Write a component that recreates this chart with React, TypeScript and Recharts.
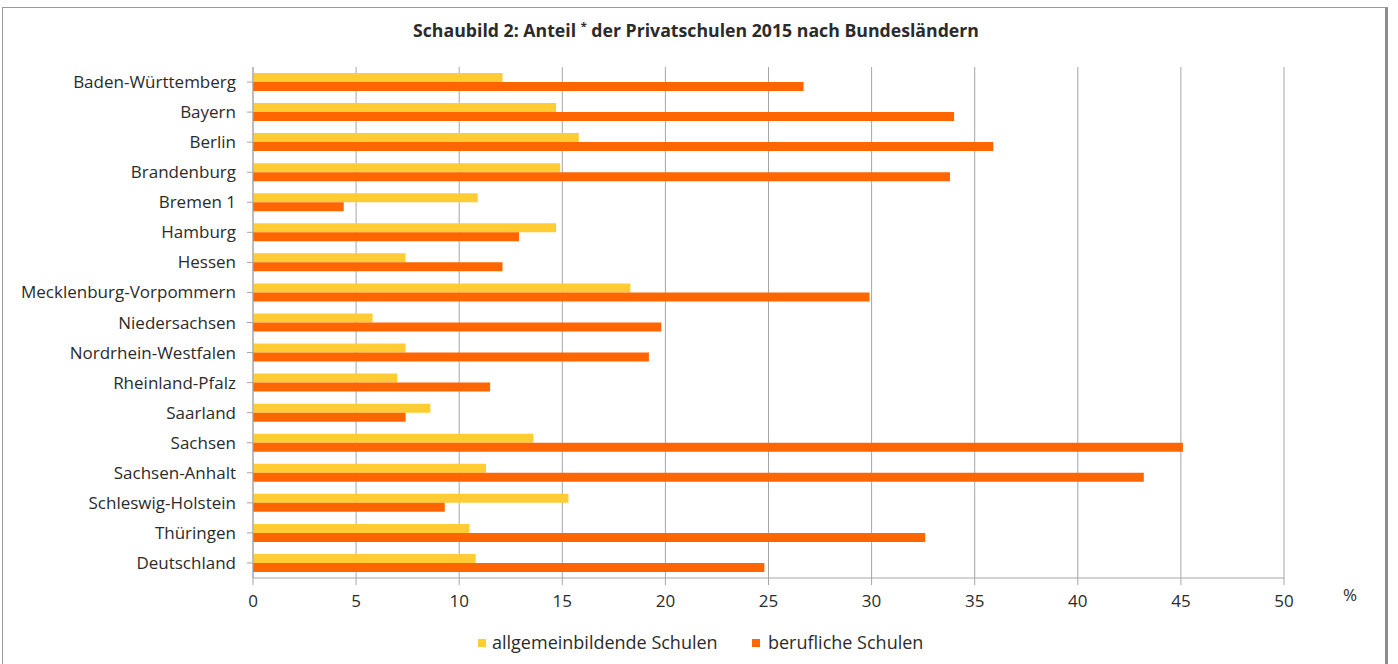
import React from 'react';
import { BarChart, Bar, XAxis, YAxis, CartesianGrid } from 'recharts';

const categories = [
  'Baden-Württemberg', 'Bayern', 'Berlin', 'Brandenburg', 'Bremen 1', 'Hamburg', 'Hessen',
  'Mecklenburg-Vorpommern', 'Niedersachsen', 'Nordrhein-Westfalen', 'Rheinland-Pfalz',
  'Saarland', 'Sachsen', 'Sachsen-Anhalt', 'Schleswig-Holstein', 'Thüringen', 'Deutschland',
];
const allgemeinbildende = [12.1, 14.7, 15.8, 14.9, 10.9, 14.7, 7.4, 18.3, 5.8, 7.4, 7.0, 8.6, 13.6, 11.3, 15.3, 10.5, 10.8];
const berufliche = [26.7, 34.0, 35.9, 33.8, 4.4, 12.9, 12.1, 29.9, 19.8, 19.2, 11.5, 7.4, 45.1, 43.2, 9.3, 32.6, 24.8];
const xTicks = [0, 5, 10, 15, 20, 25, 30, 35, 40, 45, 50];
const seriesNames = ['allgemeinbildende Schulen', 'berufliche Schulen'];
const seriesColors = ['#FFCC33', '#FF6600'];

const data = categories.map((c, i) => ({ name: c, a: allgemeinbildende[i], b: berufliche[i] }));

const FONT = '"Open Sans", "DejaVu Sans", sans-serif';
const TEXT = '#2b2b2b';
const GRID = '#a6a6a6';

export default function App() {
  return (
    <div style={{ position: 'absolute', left: 0, top: 0, width: 1398, height: 664, background: '#fff', fontFamily: FONT, overflow: 'hidden' }}>
      <div style={{ position: 'absolute', left: 2, top: 7, width: 1386, height: 700, border: '1px solid #9a9a9a', borderRight: '3px solid #8c8c8c', boxSizing: 'border-box' }} />
      <div style={{ position: 'absolute', left: 0, width: 1392, top: 18, textAlign: 'center', fontWeight: 'bold', fontSize: 17.7, color: TEXT, whiteSpace: 'nowrap' }}>
        Schaubild 2: Anteil <sup style={{ fontSize: 11 }}>*</sup> der Privatschulen 2015 nach Bundesländern
      </div>
      <div style={{ position: 'absolute', left: 1343, top: 583, fontSize: 17, color: TEXT }}>%</div>
      <div style={{ position: 'absolute', left: 0, top: 630, width: 1398, height: 26, fontSize: 18, color: TEXT }}>
        <div style={{ position: 'absolute', left: 478, top: 9, width: 8, height: 8, background: seriesColors[0] }} />
        <div style={{ position: 'absolute', left: 492, top: 0, whiteSpace: 'nowrap' }}>{seriesNames[0]}</div>
        <div style={{ position: 'absolute', left: 752, top: 9, width: 8, height: 8, background: seriesColors[1] }} />
        <div style={{ position: 'absolute', left: 768, top: 0, whiteSpace: 'nowrap' }}>{seriesNames[1]}</div>
      </div>
      <div style={{ position: 'absolute', left: 0, top: 0 }}>
        <BarChart
          width={1398}
          height={664}
          data={data}
          layout="vertical"
          margin={{ top: 67, right: 114, bottom: 46, left: 0 }}
          barCategoryGap={6}
          barGap={0}
        >
          <CartesianGrid horizontal={false} vertical={true} stroke={GRID} strokeWidth={1} />
          <XAxis
            type="number"
            domain={[0, 50]}
            ticks={xTicks}
            interval={0}
            axisLine={{ stroke: GRID }}
            tickLine={{ stroke: GRID }}
            tickSize={7}
            tickMargin={10}
            tick={{ fill: TEXT, fontSize: 17, fontFamily: FONT }}
            height={40}
          />
          <YAxis
            type="category"
            dataKey="name"
            width={253}
            interval={0}
            axisLine={{ stroke: GRID }}
            tickLine={{ stroke: GRID }}
            tickSize={6}
            tickMargin={11}
            tick={{ fill: TEXT, fontSize: 17, fontFamily: FONT }}
          />
          <Bar dataKey="a" name={seriesNames[0]} fill={seriesColors[0]} isAnimationActive={false} />
          <Bar dataKey="b" name={seriesNames[1]} fill={seriesColors[1]} isAnimationActive={false} />
        </BarChart>
      </div>
    </div>
  );
}
